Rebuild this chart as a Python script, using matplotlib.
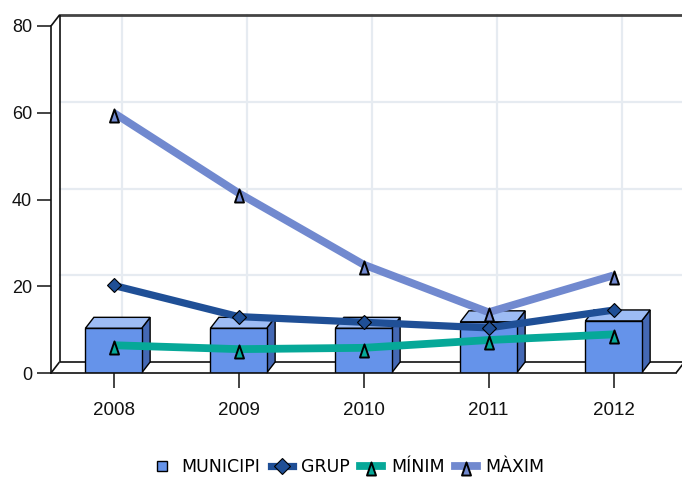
import matplotlib
matplotlib.use("Agg")
import matplotlib.pyplot as plt
from matplotlib.lines import Line2D
from matplotlib.patches import Polygon
from matplotlib.path import Path
import numpy as np

years = ['2008', '2009', '2010', '2011', '2012']
municipi = [10.3, 10.3, 10.3, 11.8, 12.0]
grup = [20.2, 13.0, 11.7, 10.4, 14.5]
minim = [6.4, 5.5, 5.8, 7.6, 8.9]
maxim = [60.0, 41.5, 25.0, 14.0, 22.5]
yticks = [0, 20, 40, 60, 80]

W, H = 682, 478
fig = plt.figure(figsize=(W / 100, H / 100), dpi=100)
L, R, T, B = 51, 676, 26, 373
ax = fig.add_axes([L / W, 1 - B / H, (R - L) / W, (B - T) / H])
ax.set_xlim(-0.5, 4.5)
ax.set_ylim(0, 80)

# depth offset (pixels -> data units)
DX_PX, DY_PX = 8.5, 11
dxd = DX_PX / ((R - L) / 5)
dyd = DY_PX / ((B - T) / 80)

x = np.arange(len(years))
grid_c = '#e6ebf1'
# back wall grid
for v in yticks[1:-1]:
    ax.plot([-0.5 + dxd, 4.5 + dxd + 0.2], [v + dyd, v + dyd], color=grid_c, lw=1.6, zorder=0.5, clip_on=False)
for xi in x:
    ax.plot([xi + dxd, xi + dxd], [dyd, 80 + dyd], color=grid_c, lw=1.6, zorder=0.5, clip_on=False)

frame = dict(color='#111111', lw=1.2, zorder=1, clip_on=False, solid_capstyle='butt')
# back wall top and left edge
ax.plot([-0.5 + dxd, 4.5 + dxd + 0.2], [80 + dyd, 80 + dyd], color='#444444', lw=2.0, zorder=1, clip_on=False)
ax.plot([-0.5 + dxd, -0.5 + dxd], [dyd, 80 + dyd], **frame)
# floor back edge
ax.plot([-0.5 + dxd, 4.5 + dxd], [dyd, dyd], **frame)
# diagonals
ax.plot([-0.5, -0.5 + dxd], [80, 80 + dyd], **frame)
ax.plot([-0.5, -0.5 + dxd], [0, dyd], **frame)
ax.plot([4.5, 4.5 + dxd], [0, dyd], **frame)

# 3D bars
bw = 0.45
front_c, top_c, side_c = '#6593ea', '#9dbcf4', '#4468b4'
for xi, v in zip(x, municipi):
    x0, x1 = xi - bw / 2, xi + bw / 2
    ax.add_patch(Polygon([(x1, 0), (x1 + dxd, dyd), (x1 + dxd, v + dyd), (x1, v)],
                         closed=True, facecolor=side_c, edgecolor='black', lw=1.0, zorder=2, clip_on=False))
    ax.add_patch(Polygon([(x0, v), (x0 + dxd, v + dyd), (x1 + dxd, v + dyd), (x1, v)],
                         closed=True, facecolor=top_c, edgecolor='black', lw=1.0, zorder=2, clip_on=False))
ax.bar(x, municipi, width=bw, color=front_c, edgecolor='black', lw=1.0, zorder=2.1)

# custom triangle marker (data point in its upper part)
tri = Path([(-0.5, -1.0), (0.5, -1.0), (0.0, 0.45), (-0.5, -1.0)],
           [Path.MOVETO, Path.LINETO, Path.LINETO, Path.CLOSEPOLY])

c_grup, c_min, c_max = '#1f4f96', '#06a898', '#7189cf'
LW = 5.6
ax.plot(x, maxim, color=c_max, lw=LW, zorder=3, solid_capstyle='butt', clip_on=False)
ax.plot(x, grup, color=c_grup, lw=LW - 0.4, zorder=3.2, solid_capstyle='butt', clip_on=False)
ax.plot(x, minim, color=c_min, lw=LW, zorder=3.1, solid_capstyle='butt', clip_on=False)
ax.plot(x, maxim, ls='none', marker=tri, ms=13, mfc=c_max, mec='black', mew=1.4, zorder=4, clip_on=False)
ax.plot(x, grup, ls='none', marker='D', ms=7, mfc=c_grup, mec='black', mew=0.8, zorder=4, clip_on=False)
ax.plot(x, minim, ls='none', marker=tri, ms=13, mfc=c_min, mec='black', mew=1.4, zorder=4, clip_on=False)

# axes styling
for s in ['top', 'right']:
    ax.spines[s].set_visible(False)
for s in ['left', 'bottom']:
    ax.spines[s].set_color('#111111')
    ax.spines[s].set_linewidth(1.2)
ax.set_yticks(yticks)
ax.set_xticks(x)
ax.set_xticklabels(years)
ax.tick_params(axis='y', length=10, width=1.1, pad=3.5, labelsize=13, colors='#111111')
ax.tick_params(axis='x', length=11, width=1.1, pad=10, labelsize=13.5, colors='#111111')
for lab in ax.get_xticklabels() + ax.get_yticklabels():
    lab.set_fontfamily('Liberation Sans')
ax.set_facecolor('none')

# legend
handles = [
    Line2D([], [], ls='none', marker='s', ms=7, mfc=front_c, mec='black', mew=1.0),
    Line2D([], [], color=c_grup, lw=LW - 0.4, marker='D', ms=8, mfc=c_grup, mec='black', mew=0.8),
    Line2D([], [], color=c_min, lw=LW, marker=tri, ms=13, mfc=c_min, mec='black', mew=1.4),
    Line2D([], [], color=c_max, lw=LW, marker=tri, ms=13, mfc=c_max, mec='black', mew=1.4),
]
labels = ['MUNICIPI', 'GRUP', 'MÍNIM', 'MÀXIM']
fig.legend(handles, labels, loc='center', bbox_to_anchor=(0.51, 0.022), ncol=4, frameon=False,
           handlelength=1.25, handletextpad=0.5, columnspacing=0.6,
           prop={'family': 'DejaVu Sans', 'size': 12.5})

fig.savefig('out.png', dpi=100)
